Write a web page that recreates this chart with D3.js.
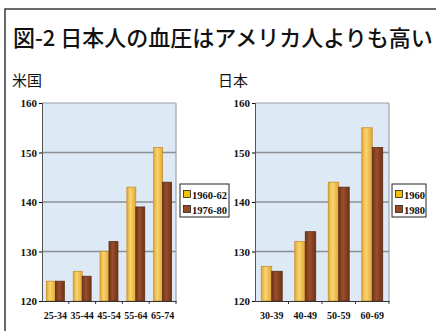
<!DOCTYPE html>
<html>
<head>
<meta charset="utf-8">
<script src="https://cdn.jsdelivr.net/npm/d3@7"></script>
<style>
  html, body { margin: 0; padding: 0; background: #fff; }
  svg { display: block; }
</style>
</head>
<body>
<div id="chart"></div>
<script>
// 図-2 data
const title = "図-2 日本人の血圧はアメリカ人よりも高い";
const yTicks = [120, 130, 140, 150, 160];

const usLabel = "米国";
const usAges = ["25-34", "35-44", "45-54", "55-64", "65-74"];
const usSeries = ["1960-62", "1976-80"];
const us1960 = [124, 126, 130, 143, 151];
const us1976 = [124, 125, 132, 139, 144];

const jpLabel = "日本";
const jpAges = ["30-39", "40-49", "50-59", "60-69"];
const jpSeries = ["1960", "1980"];
const jp1960 = [127, 132, 144, 155];
const jp1980 = [126, 134, 143, 151];

const W = 436, H = 331;
const numFont = "Liberation Serif";
const jpFont = "Noto Sans CJK JP";

const svg = d3.select("#chart").append("svg")
    .attr("width", W)
    .attr("height", H);

const defs = svg.append("defs");
function barGrad(id, edge, mid) {
    const g = defs.append("linearGradient").attr("id", id)
        .attr("x1", "0%").attr("x2", "100%").attr("y1", "0%").attr("y2", "0%");
    g.append("stop").attr("offset", "0%").attr("stop-color", edge);
    g.append("stop").attr("offset", "40%").attr("stop-color", mid);
    g.append("stop").attr("offset", "100%").attr("stop-color", edge);
}
barGrad("gYellow", "#e2a63a", "#f8d66c");
barGrad("gBrown", "#6e3418", "#9b4e2c");
const colors = ["url(#gYellow)", "url(#gBrown)"];
const strokes = ["#c98f2c", "#5e2c14"];
const swatch = ["#f5c000", "#9a4a22"];

// outer frame (top + left)
svg.append("path")
    .attr("d", `M5,${H} V9 H${W}`)
    .attr("fill", "none")
    .attr("stroke", "#3a3a3a")
    .attr("stroke-width", 1.5);

svg.append("text")
    .attr("x", 13).attr("y", 46)
    .attr("font-family", jpFont)
    .attr("font-weight", 500)
    .attr("font-size", 22)
    .attr("fill", "#111")
    .text(title);

function drawPanel(opt) {
    const g = svg.append("g");
    g.append("text")
        .attr("x", opt.labelX).attr("y", 86)
        .attr("font-family", jpFont)
        .attr("font-size", 15)
        .attr("fill", "#111")
        .text(opt.label);

    const x = d3.scaleBand().domain(opt.cats).range([opt.x0, opt.x1])
        .paddingInner(0).paddingOuter(0);
    const xs = d3.scaleBand().domain(opt.series)
        .range([0, x.bandwidth()]).paddingOuter(opt.pad);
    const y = d3.scaleLinear().domain([120, 160]).range([301, 103]);

    // plot background
    g.append("rect")
        .attr("x", opt.x0).attr("y", y(160))
        .attr("width", opt.x1 - opt.x0).attr("height", y(120) - y(160))
        .attr("fill", "#dde9f5");

    // grid
    g.selectAll(".grid").data(yTicks.slice(1, 4)).join("line")
        .attr("x1", opt.x0).attr("x2", opt.x1)
        .attr("y1", d => y(d)).attr("y2", d => y(d))
        .attr("stroke", "#8c8f94").attr("stroke-width", 1.5);
    g.append("line")
        .attr("x1", opt.x0).attr("x2", opt.x1)
        .attr("y1", y(160)).attr("y2", y(160))
        .attr("stroke", "#9a9ea4").attr("stroke-width", 1.2);
    g.append("line")
        .attr("x1", opt.x1).attr("x2", opt.x1)
        .attr("y1", y(160)).attr("y2", y(120))
        .attr("stroke", "#a0a4aa").attr("stroke-width", 1.2);

    // bars
    opt.values.forEach((vals, si) => {
        g.selectAll(".bar" + si).data(vals).join("rect")
            .attr("x", (d, i) => x(opt.cats[i]) + xs(opt.series[si]))
            .attr("y", d => y(d))
            .attr("width", xs.bandwidth())
            .attr("height", d => y(120) - y(d))
            .attr("fill", colors[si])
            .attr("stroke", strokes[si])
            .attr("stroke-width", 0.8);
    });

    // axes
    const yAxis = d3.axisLeft(y).tickValues(yTicks).tickSize(3).tickPadding(2);
    const ya = g.append("g").attr("transform", `translate(${opt.x0},0)`).call(yAxis);
    ya.select(".domain").attr("stroke", "#555");
    ya.selectAll("text")
        .attr("font-family", numFont).attr("font-weight", "bold")
        .attr("font-size", 11).attr("fill", "#111");

    const xAxis = d3.axisBottom(x).tickSize(0).tickPadding(11);
    const xa = g.append("g").attr("transform", `translate(0,${y(120)})`).call(xAxis);
    xa.select(".domain").attr("stroke", "#333").attr("stroke-width", 1.2);
    xa.selectAll("text")
        .attr("font-family", numFont).attr("font-weight", "bold")
        .attr("font-size", 10).attr("fill", "#111");
    // category separators
    g.selectAll(".sep").data(opt.cats.slice(1).concat(["end"])).join("line")
        .attr("x1", (d, i) => i < opt.cats.length - 1 ? x(d) : opt.x1)
        .attr("x2", (d, i) => i < opt.cats.length - 1 ? x(d) : opt.x1)
        .attr("y1", y(120)).attr("y2", y(120) + 3)
        .attr("stroke", "#333");

    // legend
    const lg = g.append("g").attr("transform", `translate(${opt.legX},184)`);
    lg.append("rect")
        .attr("x", 0).attr("y", 0)
        .attr("width", opt.legW).attr("height", 33)
        .attr("fill", "#fff").attr("stroke", "#222").attr("stroke-width", 1);
    opt.series.forEach((s, i) => {
        lg.append("rect")
            .attr("x", 3.5).attr("y", 6.5 + i * 15)
            .attr("width", 7).attr("height", 7)
            .attr("fill", swatch[i]).attr("stroke", "#222").attr("stroke-width", 0.8);
        lg.append("text")
            .attr("x", 12).attr("y", 14.5 + i * 15)
            .attr("font-family", numFont).attr("font-weight", "bold")
            .attr("font-size", 10.5).attr("fill", "#111")
            .text(s);
    });
}

drawPanel({
    label: usLabel, labelX: 12,
    cats: usAges, series: usSeries, values: [us1960, us1976],
    x0: 42, x1: 176, pad: 0.5,
    legX: 180, legW: 49
});

drawPanel({
    label: jpLabel, labelX: 218,
    cats: jpAges, series: jpSeries, values: [jp1960, jp1980],
    x0: 255, x1: 389, pad: 0.6,
    legX: 392, legW: 34
});
</script>
</body>
</html>
